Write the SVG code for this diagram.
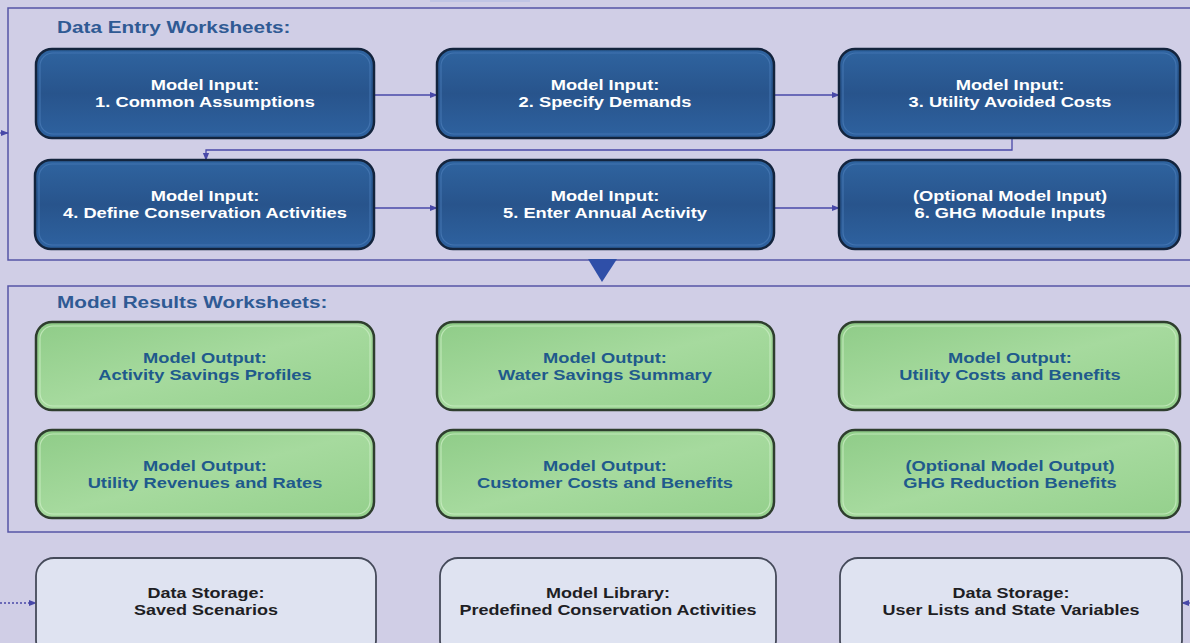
<svg xmlns="http://www.w3.org/2000/svg" width="1190" height="643" viewBox="0 0 1190 643">
<style>
.frame{fill:none;stroke:#5656a6;stroke-width:1.5}
.hdr{font-family:"Liberation Sans",Arial,sans-serif;font-weight:bold;font-size:17px;fill:#2f5a94}
.in rect.b{fill:url(#gBlue);stroke:#13243d;stroke-width:2.5}
.in rect.h{fill:none;stroke:#4a7cb8;stroke-width:1.2;opacity:0.7}
.in text{font-family:"Liberation Sans",Arial,sans-serif;font-weight:bold;font-size:15px;fill:#ffffff;text-anchor:middle}
.out rect.b{fill:url(#gGreen);stroke:#2e3e2e;stroke-width:2.5}
.out rect.h{fill:none;stroke:#c8ecc0;stroke-width:1.2;opacity:0.8}
.out text{font-family:"Liberation Sans",Arial,sans-serif;font-weight:bold;font-size:15px;fill:#1f5a8c;text-anchor:middle}
.st rect{fill:#dfe3f1;stroke:#454a5a;stroke-width:1.8}
.st text{font-family:"Liberation Sans",Arial,sans-serif;font-weight:bold;font-size:15px;fill:#1e1e24;text-anchor:middle}
.con{fill:none;stroke:#4848a8;stroke-width:1.3}
.dot{fill:none;stroke:#4848a8;stroke-width:1.3;stroke-dasharray:2 2}
</style>
<defs>
<linearGradient id="gBlue" x1="0" y1="0" x2="0" y2="1">
<stop offset="0" stop-color="#2f64a0"/>
<stop offset="0.5" stop-color="#28548c"/>
<stop offset="1" stop-color="#2e62a0"/>
</linearGradient>
<linearGradient id="gGreen" x1="0" y1="0" x2="1" y2="1">
<stop offset="0" stop-color="#8fcc88"/>
<stop offset="0.5" stop-color="#a6da9e"/>
<stop offset="1" stop-color="#94d08c"/>
</linearGradient>
<marker id="ah" viewBox="0 0 10 10" refX="9" refY="5" markerWidth="8" markerHeight="8" markerUnits="userSpaceOnUse" orient="auto">
<path d="M0,1 L10,5 L0,9 Z" fill="#4848a8"/>
</marker>
</defs>
<rect x="0" y="0" width="1190" height="643" fill="#d0cee6"/>
<rect x="430" y="0" width="100" height="2" fill="#c0c4e4"/>

<g id="frame-entry">
<rect class="frame" x="8" y="8" width="1190" height="252"/>
<text class="hdr" transform="translate(57,33) scale(1.22,1)">Data Entry Worksheets:</text>
</g>
<g id="frame-results">
<rect class="frame" x="8" y="286" width="1190" height="246"/>
<text class="hdr" transform="translate(57,308) scale(1.22,1)">Model Results Worksheets:</text>
</g>

<g id="connectors">
<line class="con" x1="0" y1="133" x2="8" y2="133" marker-end="url(#ah)"/>
<line class="con" x1="374" y1="95" x2="437" y2="95" marker-end="url(#ah)"/>
<line class="con" x1="774" y1="95" x2="839" y2="95" marker-end="url(#ah)"/>
<polyline class="con" points="1012,138 1012,150 206,150 206,160" marker-end="url(#ah)"/>
<line class="con" x1="374" y1="208" x2="437" y2="208" marker-end="url(#ah)"/>
<line class="con" x1="774" y1="208" x2="839" y2="208" marker-end="url(#ah)"/>
<path d="M588,259 L617,259 L602,282 Z" fill="#2f4fa8"/>
<line class="dot" x1="0" y1="603" x2="36" y2="603" marker-end="url(#ah)"/>
<line class="con" x1="1190" y1="603" x2="1182" y2="603" marker-end="url(#ah)"/>
</g>

<g id="in1" class="in"><rect class="b" x="36" y="49" width="338" height="89" rx="16"/><rect class="h" x="40" y="53" width="330" height="81" rx="13"/><g transform="translate(205,0) scale(1.22,1)"><text x="0" y="90.5">Model Input:</text><text x="0" y="107">1. Common Assumptions</text></g></g>
<g id="in2" class="in"><rect class="b" x="437" y="49" width="337" height="89" rx="16"/><rect class="h" x="441" y="53" width="329" height="81" rx="13"/><g transform="translate(605,0) scale(1.22,1)"><text x="0" y="90.5">Model Input:</text><text x="0" y="107">2. Specify  Demands</text></g></g>
<g id="in3" class="in"><rect class="b" x="839" y="49" width="341" height="89" rx="16"/><rect class="h" x="843" y="53" width="333" height="81" rx="13"/><g transform="translate(1010,0) scale(1.22,1)"><text x="0" y="90.5">Model Input:</text><text x="0" y="107">3. Utility  Avoided Costs</text></g></g>
<g id="in4" class="in"><rect class="b" x="35" y="160" width="339" height="89" rx="16"/><rect class="h" x="39" y="164" width="331" height="81" rx="13"/><g transform="translate(205,0) scale(1.22,1)"><text x="0" y="201.5">Model Input:</text><text x="0" y="218">4. Define Conservation Activities</text></g></g>
<g id="in5" class="in"><rect class="b" x="437" y="160" width="337" height="89" rx="16"/><rect class="h" x="441" y="164" width="329" height="81" rx="13"/><g transform="translate(605,0) scale(1.22,1)"><text x="0" y="201.5">Model Input:</text><text x="0" y="218">5. Enter Annual Activity</text></g></g>
<g id="in6" class="in"><rect class="b" x="839" y="160" width="341" height="89" rx="16"/><rect class="h" x="843" y="164" width="333" height="81" rx="13"/><g transform="translate(1010,0) scale(1.22,1)"><text x="0" y="201.5">(Optional Model Input)</text><text x="0" y="218">6.  GHG Module Inputs</text></g></g>

<g id="out1" class="out"><rect class="b" x="36" y="322" width="338" height="88" rx="16"/><rect class="h" x="40" y="326" width="330" height="80" rx="13"/><g transform="translate(205,0) scale(1.22,1)"><text x="0" y="363">Model Output:</text><text x="0" y="380">Activity Savings  Profiles</text></g></g>
<g id="out2" class="out"><rect class="b" x="437" y="322" width="337" height="88" rx="16"/><rect class="h" x="441" y="326" width="329" height="80" rx="13"/><g transform="translate(605,0) scale(1.22,1)"><text x="0" y="363">Model Output:</text><text x="0" y="380">Water Savings  Summary</text></g></g>
<g id="out3" class="out"><rect class="b" x="839" y="322" width="341" height="88" rx="16"/><rect class="h" x="843" y="326" width="333" height="80" rx="13"/><g transform="translate(1010,0) scale(1.22,1)"><text x="0" y="363">Model Output:</text><text x="0" y="380">Utility Costs and Benefits</text></g></g>
<g id="out4" class="out"><rect class="b" x="36" y="430" width="338" height="88" rx="16"/><rect class="h" x="40" y="434" width="330" height="80" rx="13"/><g transform="translate(205,0) scale(1.22,1)"><text x="0" y="471">Model Output:</text><text x="0" y="488">Utility Revenues  and Rates</text></g></g>
<g id="out5" class="out"><rect class="b" x="437" y="430" width="337" height="88" rx="16"/><rect class="h" x="441" y="434" width="329" height="80" rx="13"/><g transform="translate(605,0) scale(1.22,1)"><text x="0" y="471">Model Output:</text><text x="0" y="488">Customer Costs and Benefits</text></g></g>
<g id="out6" class="out"><rect class="b" x="839" y="430" width="341" height="88" rx="16"/><rect class="h" x="843" y="434" width="333" height="80" rx="13"/><g transform="translate(1010,0) scale(1.22,1)"><text x="0" y="471">(Optional Model Output)</text><text x="0" y="488">GHG Reduction Benefits</text></g></g>

<g id="st1" class="st"><rect x="36" y="558" width="340" height="100" rx="18"/><g transform="translate(206,0) scale(1.2,1)"><text x="0" y="598">Data Storage:</text><text x="0" y="615">Saved  Scenarios</text></g></g>
<g id="st2" class="st"><rect x="440" y="558" width="336" height="100" rx="18"/><g transform="translate(608,0) scale(1.2,1)"><text x="0" y="598">Model Library:</text><text x="0" y="615">Predefined Conservation Activities</text></g></g>
<g id="st3" class="st"><rect x="840" y="558" width="342" height="100" rx="18"/><g transform="translate(1011,0) scale(1.2,1)"><text x="0" y="598">Data Storage:</text><text x="0" y="615">User Lists and  State Variables</text></g></g>
</svg>
